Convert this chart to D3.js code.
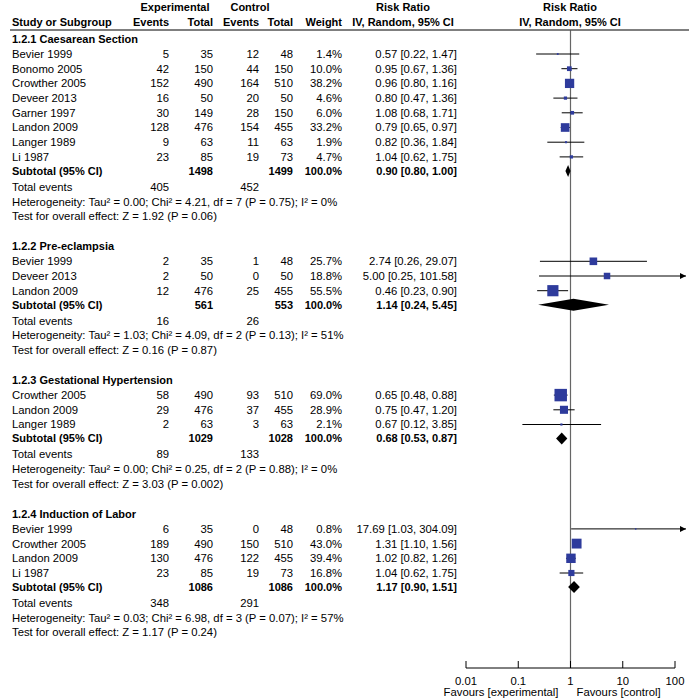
<!DOCTYPE html>
<html><head><meta charset="utf-8">
<script src="https://cdn.jsdelivr.net/npm/d3@7"></script>
<style>
html,body{margin:0;padding:0;background:#fff;}
svg{display:block;font-family:"Liberation Sans",Arial,sans-serif;}
</style></head>
<body><svg id="c" width="689" height="699"></svg>
<script>
// ---- data ----
const groups = ["1.2.1 Caesarean Section","1.2.2 Pre-eclampsia","1.2.3 Gestational Hypertension","1.2.4 Induction of Labor"];
const studyGroup = [0,0,0,0,0,0,0,0, 1,1,1, 2,2,2, 3,3,3,3];
const studyNames = ["Bevier 1999","Bonomo 2005","Crowther 2005","Deveer 2013","Garner 1997","Landon 2009","Langer 1989","Li 1987",
  "Bevier 1999","Deveer 2013","Landon 2009",
  "Crowther 2005","Landon 2009","Langer 1989",
  "Bevier 1999","Crowther 2005","Landon 2009","Li 1987"];
const expEvents = [5,42,152,16,30,128,9,23, 2,2,12, 58,29,2, 6,189,130,23];
const expTotal  = [35,150,490,50,149,476,63,85, 35,50,476, 490,476,63, 35,490,476,85];
const ctlEvents = [12,44,164,20,28,154,11,19, 1,0,25, 93,37,3, 0,150,122,19];
const ctlTotal  = [48,150,510,50,150,455,63,73, 48,50,455, 510,455,63, 48,510,455,73];
const weights   = [1.4,10.0,38.2,4.6,6.0,33.2,1.9,4.7, 25.7,18.8,55.5, 69.0,28.9,2.1, 0.8,43.0,39.4,16.8];
const rr        = [0.57,0.95,0.96,0.80,1.08,0.79,0.82,1.04, 2.74,5.00,0.46, 0.65,0.75,0.67, 17.69,1.31,1.02,1.04];
const rrLo      = [0.22,0.67,0.80,0.47,0.68,0.65,0.36,0.62, 0.26,0.25,0.23, 0.48,0.47,0.12, 1.03,1.10,0.82,0.62];
const rrHi      = [1.47,1.36,1.16,1.36,1.71,0.97,1.84,1.75, 29.07,101.58,0.90, 0.88,1.20,3.85, 304.09,1.56,1.26,1.75];

const subExpTotal = [1498,561,1029,1086];
const subCtlTotal = [1499,553,1028,1086];
const subRR = [0.90,1.14,0.68,1.17];
const subLo = [0.80,0.24,0.53,0.90];
const subHi = [1.00,5.45,0.87,1.51];
const totExpEvents = [405,16,89,348];
const totCtlEvents = [452,26,133,291];
const heterogeneity = [
  "Heterogeneity: Tau² = 0.00; Chi² = 4.21, df = 7 (P = 0.75); I² = 0%",
  "Heterogeneity: Tau² = 1.03; Chi² = 4.09, df = 2 (P = 0.13); I² = 51%",
  "Heterogeneity: Tau² = 0.00; Chi² = 0.25, df = 2 (P = 0.88); I² = 0%",
  "Heterogeneity: Tau² = 0.03; Chi² = 6.98, df = 3 (P = 0.07); I² = 57%"];
const overallEffect = [
  "Test for overall effect: Z = 1.92 (P = 0.06)",
  "Test for overall effect: Z = 0.16 (P = 0.87)",
  "Test for overall effect: Z = 3.03 (P = 0.002)",
  "Test for overall effect: Z = 1.17 (P = 0.24)"];
const tickValues = [0.01,0.1,1,10,100];
const tickLabels = ["0.01","0.1","1","10","100"];
const favourLabels = ["Favours [experimental]","Favours [control]"];

// ---- layout ----
const svg = d3.select("#c");
const FS = 11.3;
const FSB = 11;
const blue = "#2E3B9C";
const x = d3.scaleLog().domain([0.01,100]).range([466,675]);
const col = {name:12, ee:169, et:213, ce:259, ct:293, w:342, rr:457};

function txt(xp, yp, s, anchor, bold){
  return svg.append("text").attr("x",xp).attr("y",yp).attr("dy","0.35em")
    .attr("text-anchor",anchor||"start").attr("font-size",bold?FSB:FS)
    .attr("font-weight",bold?"bold":"normal").attr("fill","#000").text(s);
}
const f2 = d3.format(".2f");
const rrText = (r,l,h)=> `${f2(r)} [${f2(l)}, ${f2(h)}]`;

// header
txt(175,7,"Experimental","middle",true);
txt(250,7,"Control","middle",true);
txt(403,7,"Risk Ratio","middle",true);
txt(570,7,"Risk Ratio","middle",true);
txt(col.name,22,"Study or Subgroup","start",true);
txt(col.ee,22,"Events","end",true);
txt(col.et,22,"Total","end",true);
txt(col.ce,22,"Events","end",true);
txt(col.ct,22,"Total","end",true);
txt(col.w,22,"Weight","end",true);
txt(403,22,"IV, Random, 95% CI","middle",true);
txt(570,22,"IV, Random, 95% CI","middle",true);

const axisY = 668;
const topY = 30;

// reference line at 1
svg.append("line").attr("x1",x(1)).attr("x2",x(1)).attr("y1",topY).attr("y2",axisY)
  .attr("stroke","#666").attr("stroke-width",1.2);
svg.append("line").attr("x1",10).attr("x2",689).attr("y1",topY).attr("y2",topY)
  .attr("stroke","#555").attr("stroke-width",1.5);

const xMaxPix = 686;
const boxK = 1.5;
let y = 39;
groups.forEach((g,gi)=>{
  txt(col.name,y,g,"start",true);
  y += 15;
  const idx = d3.range(studyNames.length).filter(i=>studyGroup[i]===gi);
  idx.forEach((i,k)=>{
    if(k>0) y += 14.7;
    txt(col.name,y,studyNames[i]);
    txt(col.ee,y,expEvents[i],"end");
    txt(col.et,y,expTotal[i],"end");
    txt(col.ce,y,ctlEvents[i],"end");
    txt(col.ct,y,ctlTotal[i],"end");
    txt(col.w,y,d3.format(".1f")(weights[i])+"%","end");
    txt(col.rr,y,rrText(rr[i],rrLo[i],rrHi[i]),"end");
    const over = rrHi[i] > x.domain()[1];
    const x2 = over ? xMaxPix : x(rrHi[i]);
    svg.append("line").attr("x1",x(rrLo[i])).attr("x2",x2).attr("y1",y).attr("y2",y)
      .attr("stroke","#000").attr("stroke-width",1);
    if(over){
      svg.append("path").attr("d",`M${x2},${y} L${x2-6},${y-3} L${x2-6},${y+3} Z`).attr("fill","#000");
    }
    const s = Math.max(1.5, boxK*Math.sqrt(weights[i]));
    svg.append("rect").attr("x",x(rr[i])-s/2).attr("y",y-s/2).attr("width",s).attr("height",s).attr("fill",blue);
  });
  y += 14;
  txt(col.name,y,"Subtotal (95% CI)","start",true);
  txt(col.et,y,subExpTotal[gi],"end",true);
  txt(col.ct,y,subCtlTotal[gi],"end",true);
  txt(col.w,y,"100.0%","end",true);
  txt(col.rr,y,rrText(subRR[gi],subLo[gi],subHi[gi]),"end",true);
  const h = 6;
  svg.append("path").attr("d",`M${x(subLo[gi])},${y} L${x(subRR[gi])},${y-h} L${x(subHi[gi])},${y} L${x(subRR[gi])},${y+h} Z`).attr("fill","#000");
  y += 16;
  txt(col.name,y,"Total events");
  txt(col.ee,y,totExpEvents[gi],"end");
  txt(col.ce,y,totCtlEvents[gi],"end");
  y += 14.7;
  txt(col.name,y,heterogeneity[gi]);
  y += 14.7;
  txt(col.name,y,overallEffect[gi]);
  y += 30;
});

// axis
const ax = svg.append("g").attr("transform",`translate(0,${axisY})`);
ax.append("line").attr("x1",x(0.01)).attr("x2",x(100)).attr("stroke","#000").attr("stroke-width",1);
tickValues.forEach((v,i)=>{
  ax.append("line").attr("x1",x(v)).attr("x2",x(v)).attr("y1",-7).attr("y2",0).attr("stroke","#000");
  ax.append("text").attr("x",x(v)).attr("y",13).attr("dy","0.35em").attr("text-anchor","middle")
    .attr("font-size",FS).text(tickLabels[i]);
});
txt(x(1)-12,692,favourLabels[0],"end");
txt(x(1)+6,692,favourLabels[1],"start");
</script></body></html>
